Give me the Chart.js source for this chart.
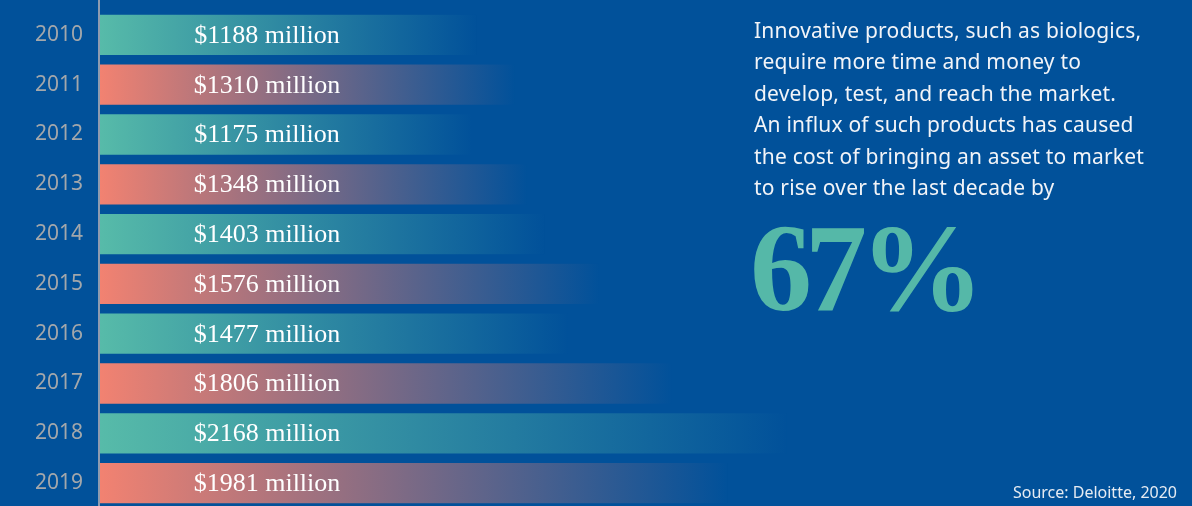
<!DOCTYPE html>
<html>
<head>
<meta charset="utf-8">
<script src="https://cdn.jsdelivr.net/npm/chart.js@4"></script>
<style>
  html, body { margin: 0; padding: 0; background: #01519a; overflow: hidden; }
  #wrap { position: relative; width: 1192px; height: 506px; overflow: hidden; }
  #chart1 { position: absolute; left: 0; top: 0; }
  .note { position: absolute; left: 754px; top: 15px; color: #f2f4f8; white-space: nowrap;
          font-family: "Noto Sans", sans-serif; font-size: 21px; line-height: 31.4px; letter-spacing: 0.2px; }
  .big { position: absolute; left: 750px; top: 207px; color: #55b8a8; font-weight: bold; letter-spacing: -7px;
         font-family: "Liberation Serif", serif; font-size: 124px; line-height: 124px; }
  .source { position: absolute; right: 15px; top: 481px; color: #e6ebf2;
            font-family: "Noto Sans", sans-serif; font-size: 16px; }
</style>
</head>
<body>
<div id="wrap">
  <canvas id="chart1" width="1192" height="508"></canvas>
  <div class="note">Innovative products, such as biologics,<br>require more time and money to<br>develop, test, and reach the market.<br>An influx of such products has caused<br>the cost of bringing an asset to market<br>to rise over the last decade by</div>
  <div class="big">67%</div>
  <div class="source">Source: Deloitte, 2020</div>
</div>
<script>
const years = ['2010', '2011', '2012', '2013', '2014', '2015', '2016', '2017', '2018', '2019'];
const costs = [1188, 1310, 1175, 1348, 1403, 1576, 1477, 1806, 2168, 1981];
const startColors = ['#57bba9', '#f28271'];
const bgColor = 'rgba(1, 81, 154, 1)';

function barGradient(ctx) {
  const chart = ctx.chart;
  if (!chart.chartArea || ctx.type !== 'data') return startColors[0];
  const x = chart.scales.x;
  const x0 = x.getPixelForValue(0);
  const x1 = x.getPixelForValue(costs[ctx.dataIndex]);
  const g = chart.ctx.createLinearGradient(x0, 0, x1, 0);
  g.addColorStop(0, startColors[ctx.dataIndex % 2]);
  g.addColorStop(1, bgColor);
  return g;
}

// axis line runs the full height of the picture
const axisLine = {
  id: 'axisLine',
  beforeDatasetsDraw(chart) {
    const c = chart.ctx;
    const x = chart.chartArea.left;
    c.save();
    c.strokeStyle = '#8e9bb0';
    c.lineWidth = 2;
    c.beginPath();
    c.moveTo(x - 1, 0);
    c.lineTo(x - 1, chart.height);
    c.stroke();
    c.restore();
  }
};

const valueLabels = {
  id: 'valueLabels',
  afterDatasetsDraw(chart) {
    const c = chart.ctx;
    const meta = chart.getDatasetMeta(0);
    c.save();
    c.font = '26px "Liberation Serif", serif';
    c.fillStyle = '#ffffff';
    c.textAlign = 'center';
    c.textBaseline = 'middle';
    meta.data.forEach(function(bar, i) {
      c.fillText('$' + costs[i] + ' million', chart.chartArea.left + 167, bar.y + 1);
    });
    c.restore();
  }
};

const ctx1 = document.getElementById('chart1').getContext('2d');
new Chart(ctx1, {
  type: 'bar',
  data: {
    labels: years,
    datasets: [{
      data: costs,
      backgroundColor: barGradient,
      borderWidth: 0,
      barPercentage: 0.81,
      categoryPercentage: 1
    }]
  },
  options: {
    indexAxis: 'y',
    responsive: false,
    animation: false,
    layout: { padding: { top: 10, bottom: 0, left: 0, right: 0 } },
    plugins: { legend: { display: false }, tooltip: { enabled: false } },
    scales: {
      x: { display: false, min: 0, max: 3450 },
      y: {
        afterFit(scale) {
          scale.width = 100;
          scale.paddingTop = 0;
          scale.paddingBottom = 0;
        },
        grid: { display: false, drawTicks: false },
        border: { display: false },
        ticks: {
          color: '#a3a7ab',
          padding: 17,
          font: { family: '"Noto Sans", sans-serif', size: 21 }
        }
      }
    }
  },
  plugins: [axisLine, valueLabels]
});
</script>
</body>
</html>
